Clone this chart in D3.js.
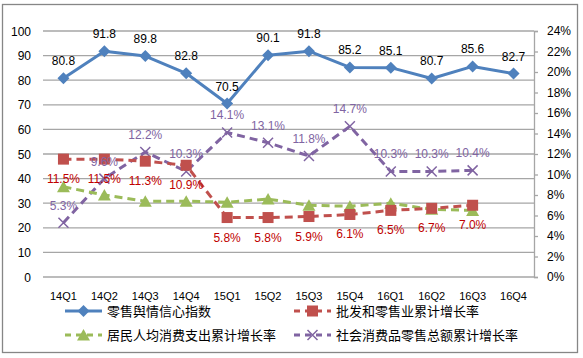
<!DOCTYPE html>
<html>
<head>
<meta charset="utf-8">
<script src="https://cdn.jsdelivr.net/npm/d3@7"></script>
<style>
  body { margin: 0; background: #fff; }
  svg { font-family: "Liberation Sans", Arial, "Noto Sans CJK SC", sans-serif; }
</style>
</head>
<body>
<div id="chart"></div>
<script>
// chart data
const quarters = ["14Q1","14Q2","14Q3","14Q4","15Q1","15Q2","15Q3","15Q4","16Q1","16Q2","16Q3","16Q4"];
const confidence = [80.8, 91.8, 89.8, 82.8, 70.5, 90.1, 91.8, 85.2, 85.1, 80.7, 85.6, 82.7];
const wholesaleRetail = [11.5, 11.5, 11.3, 10.9, 5.8, 5.8, 5.9, 6.1, 6.5, 6.7, 7.0];
const consumption = [8.8, 8.0, 7.4, 7.4, 7.3, 7.6, 7.0, 6.9, 7.2, 6.6, 6.5];
const socialRetail = [5.3, 9.6, 12.2, 10.3, 14.1, 13.1, 11.8, 14.7, 10.3, 10.3, 10.4];
const leftTicks = [0, 10, 20, 30, 40, 50, 60, 70, 80, 90, 100];
const rightTicks = [0, 2, 4, 6, 8, 10, 12, 14, 16, 18, 20, 22, 24];
const seriesNames = ["零售舆情信心指数", "批发和零售业累计增长率", "居民人均消费支出累计增长率", "社会消费品零售总额累计增长率"];

const width = 583, height = 358;
const margin = {left: 43, right: 49, top: 31, bottom: 81};

const svg = d3.select("#chart").append("svg")
  .attr("width", width).attr("height", height);

// outer frame
svg.append("rect")
  .attr("x", 2.5).attr("y", 4.5).attr("width", 575).attr("height", 348)
  .attr("fill", "none").attr("stroke", "#868686").attr("stroke-width", 1.3);

const x = d3.scaleBand().domain(quarters).range([margin.left, width - margin.right]);
const cx = d => x(d) + x.bandwidth() / 2;
const yL = d3.scaleLinear().domain([0, 100]).range([height - margin.bottom, margin.top]);
const yR = d3.scaleLinear().domain([0, 24]).range([height - margin.bottom, margin.top]);

// gridlines
svg.append("g").selectAll("line").data(leftTicks).join("line")
  .attr("x1", margin.left).attr("x2", width - margin.right)
  .attr("y1", d => yL(d)).attr("y2", d => yL(d))
  .attr("stroke", "#a6a6a6").attr("stroke-width", 1.3);

// left axis labels
svg.append("g").selectAll("text").data(leftTicks).join("text")
  .attr("x", 31).attr("y", d => yL(d) + 4.5)
  .attr("text-anchor", "end").attr("font-size", 12).attr("fill", "#000")
  .text(d => d);

// right axis
const rAxis = svg.append("g")
  .attr("transform", `translate(${width - margin.right},0)`)
  .call(d3.axisRight(yR).tickValues(rightTicks).tickSize(4).tickPadding(9).tickFormat(d => d + "%"));
rAxis.select(".domain").attr("stroke", "#a6a6a6").attr("stroke-width", 1.3);
rAxis.selectAll(".tick line").attr("stroke", "#a6a6a6").attr("stroke-width", 1.3);
rAxis.selectAll("text").attr("font-size", 12).attr("fill", "#000")
  .attr("font-family", "Liberation Sans, Arial, sans-serif");

// x labels
svg.append("g").selectAll("text").data(quarters).join("text")
  .attr("x", d => cx(d)).attr("y", 300)
  .attr("text-anchor", "middle").attr("font-size", 11).attr("fill", "#000")
  .text(d => d);

// series setup
const blue = "#4f81bd", red = "#c0504d", green = "#9bbb59", purple = "#8064a2";

function drawLine(values, yScale, color, dash) {
  const line = d3.line().x((d, i) => cx(quarters[i])).y(d => yScale(d));
  svg.append("path").datum(values)
    .attr("d", line).attr("fill", "none")
    .attr("stroke", color).attr("stroke-width", 3)
    .attr("stroke-dasharray", dash || null)
    .attr("stroke-linejoin", "round");
}

function marker(g, type, color, px, py) {
  if (type === "diamond") {
    g.append("path").attr("d", `M${px},${py - 6}L${px + 6},${py}L${px},${py + 6}L${px - 6},${py}Z`)
      .attr("fill", color);
  } else if (type === "square") {
    g.append("rect").attr("x", px - 5.5).attr("y", py - 5.5).attr("width", 11).attr("height", 11)
      .attr("fill", color);
  } else if (type === "triangle") {
    g.append("path").attr("d", `M${px},${py - 6}L${px + 6.5},${py + 5.5}L${px - 6.5},${py + 5.5}Z`)
      .attr("fill", color);
  } else if (type === "x") {
    g.append("path").attr("d", `M${px - 5},${py - 5}L${px + 5},${py + 5}M${px - 5},${py + 5}L${px + 5},${py - 5}`)
      .attr("stroke", color).attr("stroke-width", 1.5);
  }
}

// social retail (purple)
drawLine(socialRetail, yR, purple, "8,5");
const gP = svg.append("g");
socialRetail.forEach((v, i) => marker(gP, "x", purple, cx(quarters[i]), yR(v)));

// consumption (green)
drawLine(consumption, yR, green, "8,5");
const gG = svg.append("g");
consumption.forEach((v, i) => marker(gG, "triangle", green, cx(quarters[i]), yR(v)));

// wholesale retail (red)
drawLine(wholesaleRetail, yR, red, "8,5");
const gR = svg.append("g");
wholesaleRetail.forEach((v, i) => marker(gR, "square", red, cx(quarters[i]), yR(v)));

// confidence (blue)
drawLine(confidence, yL, blue, null);
const gB = svg.append("g");
confidence.forEach((v, i) => marker(gB, "diamond", blue, cx(quarters[i]), yL(v)));

// data labels
svg.append("g").selectAll("text").data(socialRetail).join("text")
  .attr("x", (d, i) => cx(quarters[i])).attr("y", d => yR(d) - 13)
  .attr("text-anchor", "middle").attr("font-size", 12).attr("fill", purple)
  .text(d => d.toFixed(1) + "%");

svg.append("g").selectAll("text").data(wholesaleRetail).join("text")
  .attr("x", (d, i) => cx(quarters[i])).attr("y", d => yR(d) + 24)
  .attr("text-anchor", "middle").attr("font-size", 12).attr("fill", "#c00000")
  .text(d => d.toFixed(1) + "%");

svg.append("g").selectAll("text").data(confidence).join("text")
  .attr("x", (d, i) => cx(quarters[i])).attr("y", d => yL(d) - 13)
  .attr("text-anchor", "middle").attr("font-size", 12).attr("fill", "#000")
  .text(d => d.toFixed(1));

// legend
const legendItems = [
  {name: seriesNames[0], color: blue, type: "diamond", dash: null, lx: 65, ly: 311},
  {name: seriesNames[1], color: red, type: "square", dash: "6,5", lx: 294, ly: 311},
  {name: seriesNames[2], color: green, type: "triangle", dash: "6,5", lx: 65, ly: 335},
  {name: seriesNames[3], color: purple, type: "x", dash: "6,5", lx: 294, ly: 335}
];
const gL = svg.append("g");
legendItems.forEach(d => {
  gL.append("line").attr("x1", d.lx).attr("x2", d.lx + 37).attr("y1", d.ly).attr("y2", d.ly)
    .attr("stroke", d.color).attr("stroke-width", 3).attr("stroke-dasharray", d.dash);
  marker(gL, d.type, d.color, d.lx + 18.5, d.ly);
  gL.append("text").attr("x", d.lx + 42).attr("y", d.ly + 4.5)
    .attr("font-size", 13).attr("fill", "#000")
    .attr("font-family", "Noto Sans CJK SC, sans-serif")
    .text(d.name);
});
</script>
</body>
</html>
